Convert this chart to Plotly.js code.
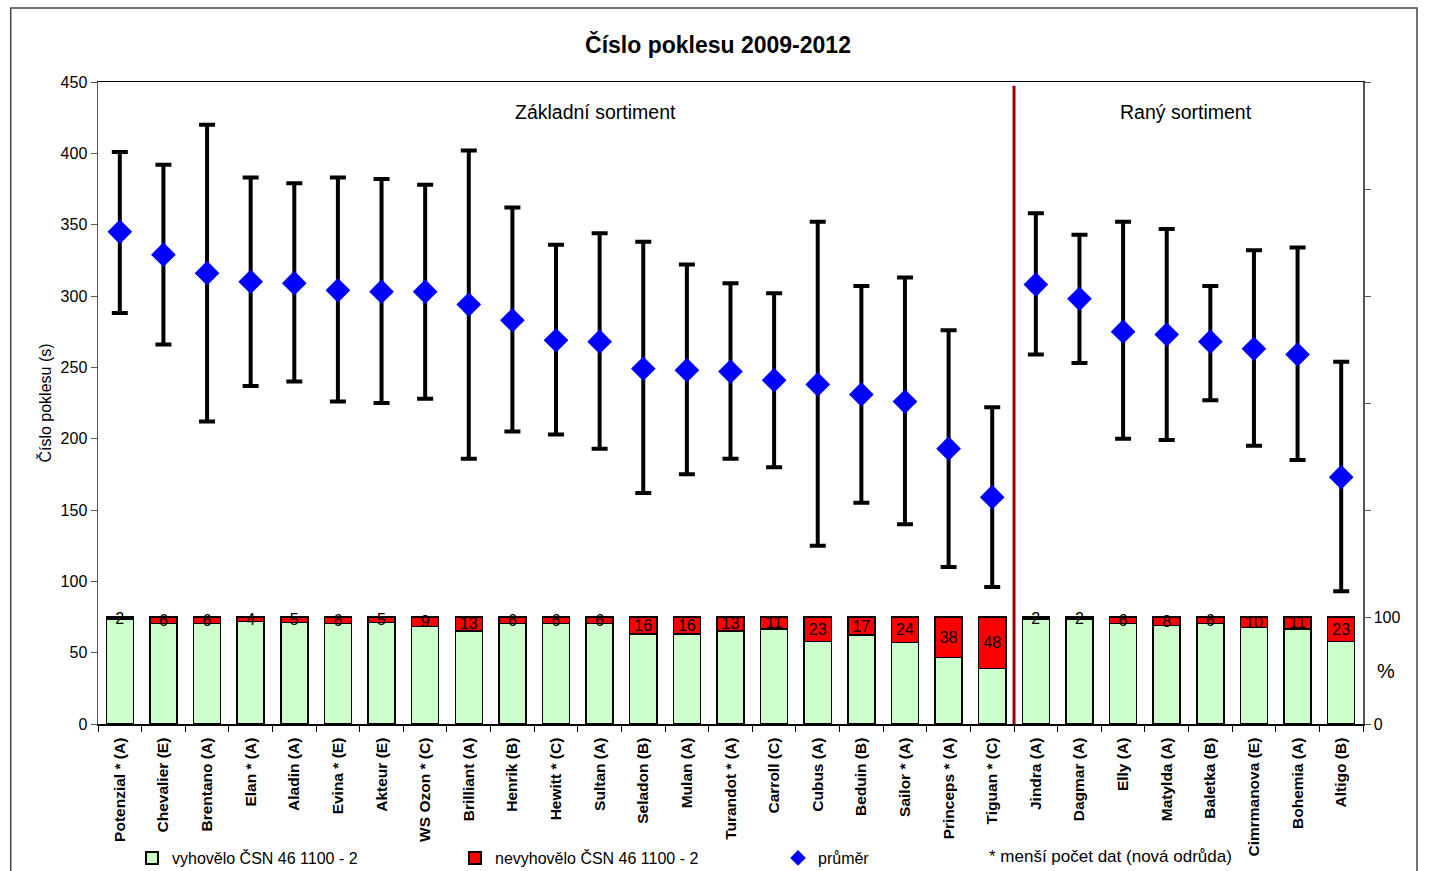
<!DOCTYPE html>
<html>
<head>
<meta charset="utf-8">
<script src="https://cdn.plot.ly/plotly-3.0.1.min.js"></script>
<style>html,body{margin:0;padding:0;background:#fff;}#chart{width:1436px;height:871px;}</style>
</head>
<body>
<div id="chart"></div>
<script>
// --- data ---
const basicVarieties = ["Potenzial * (A)","Chevalier (E)","Brentano (A)","Elan * (A)","Aladin (A)","Evina * (E)","Akteur (E)","WS Ozon * (C)","Brilliant (A)","Henrik (B)","Hewitt * (C)","Sultan (A)","Seladon (B)","Mulan (A)","Turandot * (A)","Carroll (C)","Cubus (A)","Beduin (B)","Sailor * (A)","Princeps * (A)","Tiguan * (C)"];
const earlyVarieties = ["Jindra (A)","Dagmar (A)","Elly (A)","Matylda (A)","Baletka (B)","Cimrmanova (E)","Bohemia (A)","Altigo (B)"];
const categories = basicVarieties.concat(earlyVarieties);

const meanValues = [345,329,316,310,309,304,303,303,294,283,269,268,249,248,247,241,238,231,226,193,159, 308,298,275,273,268,263,259,173];
const maxValues  = [401,392,420,383,379,383,382,378,402,362,336,344,338,322,309,302,352,307,313,276,222, 358,343,352,347,307,332,334,254];
const minValues  = [288,266,212,237,240,226,225,228,186,205,203,193,162,175,186,180,125,155,140,110,96, 259,253,200,199,227,195,185,93];

const failedPct = [2,6,6,4,5,6,5,9,13,6,6,6,16,16,13,11,23,17,24,38,48, 2,2,6,8,6,10,11,23];
const passedPct = failedPct.map(v => 100 - v);

const percentTicks = [0,100,200,300,400,500,600];
const percentTickText = ["0","100","","","","",""];

// --- traces ---
const font = "Arial, 'Liberation Sans', sans-serif";
const traces = [
  {
    type: "bar", x: categories, y: passedPct, yaxis: "y2",
    name: "vyhovělo ČSN 46 1100 - 2",
    marker: {color: "#CCFFCC", line: {color: "#000", width: 1.5}},
    hoverinfo: "skip"
  },
  {
    type: "bar", x: categories, y: failedPct, yaxis: "y2",
    name: "nevyhovělo ČSN 46 1100 - 2",
    marker: {color: "#FF0000", line: {color: "#000", width: 1.5}},
    text: failedPct.map(String),
    textposition: "inside", insidetextanchor: "middle", constraintext: "none", textangle: 0,
    insidetextfont: {family: font, size: 16, color: "#000"},
    hoverinfo: "skip"
  },
  {
    type: "scatter", mode: "markers", x: categories, y: meanValues,
    marker: {size: 1, color: "rgba(0,0,0,0)"},
    error_y: {type: "data", symmetric: false,
      array: maxValues.map((v, i) => v - meanValues[i]),
      arrayminus: meanValues.map((v, i) => v - minValues[i]),
      color: "#000", thickness: 4, width: 8},
    showlegend: false, hoverinfo: "skip"
  },
  {
    type: "scatter", mode: "markers", x: categories, y: meanValues,
    name: "průměr",
    marker: {symbol: "diamond", size: 19, color: "#0000FF"}
  }
];

const sepX = basicVarieties.length - 0.5;

const layout = {
  width: 1436, height: 871,
  paper_bgcolor: "#fff", plot_bgcolor: "#fff",
  margin: {l: 98, r: 73, t: 82, b: 147},
  font: {family: font, color: "#000"},
  title: {text: "<b>Číslo poklesu 2009-2012</b>", font: {family: font, size: 23, color: "#000"},
          x: 0.5, xref: "container", y: 1 - 45/871, yref: "container", yanchor: "middle"},
  barmode: "stack", bargap: 0.38,
  showlegend: true,
  legend: {orientation: "h", xref: "container", yref: "container", x: 132/1436, y: 1 - 858/871,
           xanchor: "left", yanchor: "middle", entrywidth: 278, entrywidthmode: "pixels",
           font: {family: font, size: 16, color: "#000"}, itemsizing: "constant",
           bgcolor: "rgba(0,0,0,0)", traceorder: "normal"},
  xaxis: {type: "category", range: [-0.5, categories.length - 0.5], tickson: "boundaries",
          ticks: "outside", ticklen: 6, tickcolor: "#000", showline: true, linecolor: "#000", linewidth: 1.5,
          mirror: true, showgrid: false, tickangle: -90, ticklabelstandoff: 6,
          tickfont: {family: font, size: 15.5, color: "#000", weight: "bold"}},
  yaxis: {range: [0, 450], dtick: 50, ticks: "outside", ticklen: 6, tickcolor: "#555",
          showline: true, linecolor: "#555", linewidth: 1.5, showgrid: false, zeroline: false,
          tickfont: {family: font, size: 16, color: "#000"},
          title: {text: "Číslo poklesu (s)", font: {family: font, size: 16, color: "#000"}, standoff: 5}},
  yaxis2: {overlaying: "y", side: "right", range: [0, 600], tickmode: "array",
           tickvals: percentTicks, ticktext: percentTickText, ticks: "outside", ticklen: 6, tickcolor: "#555",
           showline: true, linecolor: "#555", linewidth: 1.5, showgrid: false, zeroline: false,
           tickfont: {family: font, size: 16, color: "#000"}},
  shapes: [
    {type: "line", xref: "x", yref: "paper", x0: sepX, x1: sepX, y0: 0, y1: 0.994,
     line: {color: "#990000", width: 3}},
    {type: "rect", xref: "paper", yref: "paper", x0: -0.069, x1: 1.0427, y0: -0.25, y1: 1.1153,
     line: {color: "#444", width: 1.5}, fillcolor: "rgba(0,0,0,0)", layer: "below"}
  ],
  annotations: [
    {text: "Základní sortiment", xref: "paper", yref: "paper", x: 0.393, y: 0.953, showarrow: false,
     xanchor: "center", yanchor: "middle", font: {family: font, size: 19.5, color: "#000"}},
    {text: "Raný sortiment", xref: "paper", yref: "paper", x: 0.860, y: 0.953, showarrow: false,
     xanchor: "center", yanchor: "middle", font: {family: font, size: 19.5, color: "#000"}},
    {text: "%", xref: "paper", yref: "y2", x: 1.018, y: 50, showarrow: false,
     xanchor: "center", yanchor: "middle", font: {family: font, size: 20, color: "#000"}},
    {text: "* menší počet dat (nová odrůda)", xref: "paper", yref: "paper", x: 0.7028, y: -0.207,
     xanchor: "left", yanchor: "middle", showarrow: false, font: {family: font, size: 17, color: "#000"}}
  ]
};

Plotly.newPlot("chart", traces, layout, {displayModeBar: false, staticPlot: true});
</script>
</body>
</html>
